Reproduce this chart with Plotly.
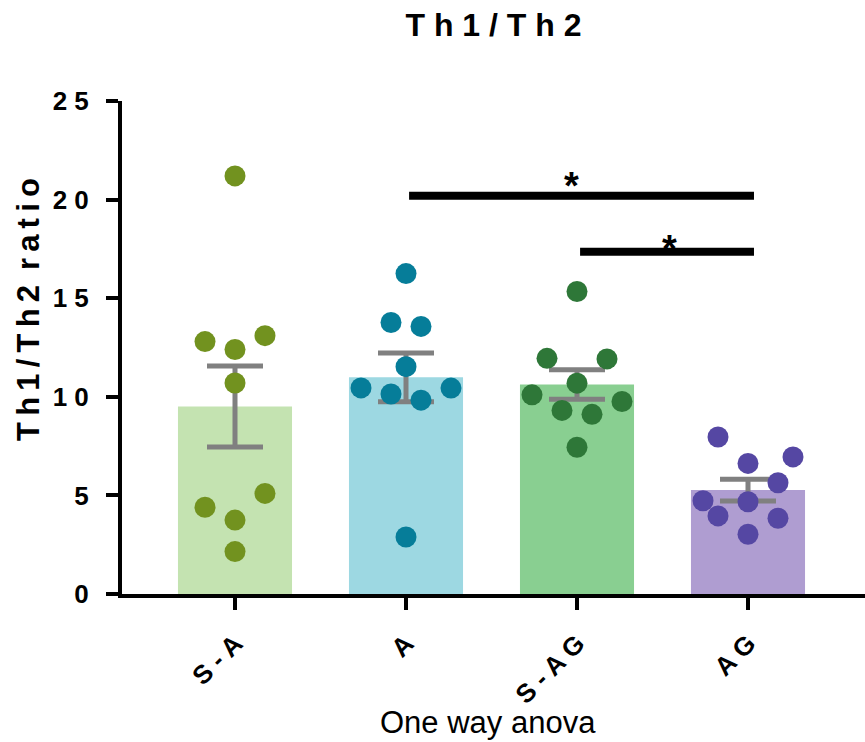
import numpy as np
import plotly.graph_objects as go

# ---------------- data ----------------
groups = ["S-A", "A", "S-AG", "AG"]
group_labels = ["S - A", "A", "S - A G", "A G"]

sa_vals = [21.2, 12.8, 13.1, 12.4, 10.7, 4.4, 5.1, 3.75, 2.15]
a_vals = [16.25, 13.77, 13.57, 11.53, 10.45, 10.14, 9.83, 10.44, 2.89]
sag_vals = [15.34, 11.95, 11.92, 10.69, 10.1, 9.31, 9.11, 9.76, 7.44]
ag_vals = [7.96, 6.62, 6.95, 5.64, 4.73, 4.68, 3.96, 3.84, 3.03]
values = [sa_vals, a_vals, sag_vals, ag_vals]

# beeswarm column slots of each point
slots = [
    [0, -2, 2, 0, 0, -2, 2, 0, 0],
    [0, -1, 1, 0, -3, -1, 1, 3, 0],
    [0, -2, 2, 0, -3, -1, 1, 3, 0],
    [-2, 0, 3, 2, -3, 0, -2, 2, 0],
]

# significance comparisons: (from group, to group, bar height, label)
comparisons = [(1, 3, 20.2, "*"), (2, 3, 17.35, "*")]

y_tickvals = [0, 5, 10, 15, 20, 25]
y_ticktext = ["0", "5", "1 0", "1 5", "2 0", "2 5"]

# ---------------- styles ----------------
bar_colors = ["#C4E3B1", "#9DD8E2", "#89CF91", "#AF9DD1"]
dot_colors = ["#72921F", "#067D99", "#2E7738", "#5547A3"]
FONT = "Liberation Sans"
slot_w = 0.0877

means = [float(np.mean(v)) for v in values]
sems = [float(np.std(v, ddof=1) / np.sqrt(len(v))) for v in values]
xs = list(range(len(groups)))

fig = go.Figure()
fig.add_trace(go.Bar(
    x=xs, y=means, width=0.667,
    marker=dict(color=bar_colors, line=dict(width=0)),
    error_y=dict(type="data", array=sems, visible=True,
                 color="#808080", thickness=5, width=28),
    showlegend=False, hoverinfo="skip",
))
for i, v in enumerate(values):
    fig.add_trace(go.Scatter(
        x=[i + s * slot_w for s in slots[i]], y=v, mode="markers",
        marker=dict(size=21, color=dot_colors[i], line=dict(width=0)),
        showlegend=False,
    ))

star_dx = [-0.035, 0.04]
star_shift = [10, 3]
for k, (g0, g1, h, lab) in enumerate(comparisons):
    fig.add_shape(type="line", xref="x", yref="y",
                  x0=g0 + 0.018, x1=g1 + 0.035, y0=h, y1=h,
                  line=dict(color="black", width=8))
    fig.add_annotation(x=(g0 + g1) / 2 + star_dx[k], y=h, xref="x", yref="y",
                       text=lab, showarrow=False, yanchor="middle",
                       yshift=star_shift[k],
                       font=dict(family=FONT, size=38, color="black", weight="bold"))

W, H = 865, 742
L, R, T, B = 122, 0, 101, 148
pw, ph = W - L - R, H - T - B
x_lo = -(235 - L) / 171.0
x_hi = x_lo + pw / 171.0

fig.update_layout(
    width=W, height=H,
    margin=dict(l=L, r=R, t=T, b=B, pad=0),
    plot_bgcolor="white", paper_bgcolor="white",
    title=dict(text="T h 1 / T h 2", x=(L + pw / 2) / W, xanchor="center",
               y=1 - 25 / H, yanchor="middle", yref="container",
               font=dict(family=FONT, size=32, color="black", weight="bold")),
    xaxis=dict(range=[x_lo, x_hi], tickvals=xs, ticktext=group_labels,
               tickangle=-45, showgrid=False, zeroline=False,
               showline=True, linecolor="black", linewidth=4,
               ticks="outside", ticklen=12, tickwidth=4, tickcolor="black",
               ticklabelstandoff=8,
               tickfont=dict(family=FONT, size=26, color="black", weight="bold")),
    yaxis=dict(range=[0, 25], tickvals=y_tickvals, ticktext=y_ticktext,
               showgrid=False, zeroline=False,
               showline=True, linecolor="black", linewidth=4,
               ticks="outside", ticklen=12, tickwidth=4, tickcolor="black",
               ticklabelstandoff=12,
               tickfont=dict(family=FONT, size=26, color="black", weight="bold")),
)

# axis titles
fig.add_annotation(xref="paper", yref="paper", x=(28 - L) / pw, y=(H - B - 309) / ph,
                   text="T\u2009h\u20091\u2009/\u2009T\u2009h\u20092 \u2009r\u2009a\u2009t\u2009i\u2009o",
                   textangle=-90, showarrow=False, xanchor="center", yanchor="middle",
                   font=dict(family=FONT, size=31, color="black", weight="bold"))
fig.add_annotation(xref="paper", yref="paper", x=(488 - L) / pw, y=(H - B - 722) / ph,
                   text="One way anova", showarrow=False, xanchor="center", yanchor="middle",
                   font=dict(family=FONT, size=31, color="black"))

fig.write_html("out.html")
